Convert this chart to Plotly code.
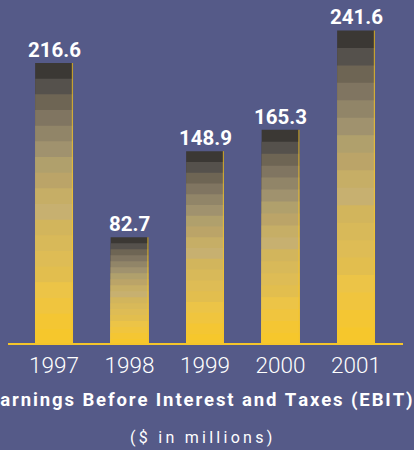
import plotly.graph_objects as go

years = ["1997", "1998", "1999", "2000", "2001"]
values = [216.6, 82.7, 148.9, 165.3, 241.6]
value_labels = ["216.6", "82.7", "148.9", "165.3", "241.6"]

title_text = "Earnings Before Interest and Taxes (EBIT)"
subtitle_text = "($ in millions)"

# band colours, bottom to top
band_colors = [
    "#F6C72C", "#F4C633", "#F0C53E", "#ECC447", "#E2BE4E", "#DEBC55",
    "#D8B959", "#D2B55C", "#C7B070", "#C6AE66", "#BBA468", "#B0A06C",
    "#A0926E", "#918568", "#807561", "#6E6554", "#55514C", "#3B3834",
]
N = len(band_colors)

BG = "#555A88"
YELLOW = "#F5C52A"
FONT = "Roboto, sans-serif"

xs = list(range(len(years)))
fig = go.Figure()
# draw from the top band down; each band spans from 0 up to its top edge,
# so later (lower) bands cover the lower part without seams
for i in range(N - 1, -1, -1):
    fig.add_trace(go.Bar(
        x=xs,
        y=[v * (i + 1) / N for v in values],
        marker=dict(color=band_colors[i], line=dict(width=0)),
        width=0.5,
        hoverinfo="skip",
        showlegend=False,
    ))

# thin edge on the right side of each bar
fig.add_trace(go.Bar(
    x=xs,
    y=values,
    width=0.016,
    offset=0.236,
    marker=dict(color="rgba(245,197,42,0.7)", line=dict(width=0)),
    hoverinfo="skip",
    showlegend=False,
))

fig.update_layout(barmode="overlay")

for i, (v, lab) in enumerate(zip(values, value_labels)):
    fig.add_annotation(
        x=i, y=v, xref="x", yref="y", text=lab, showarrow=False,
        yanchor="bottom", yshift=-1,
        font=dict(family=FONT, size=20.5, color="white", weight="bold"),
    )

fig.add_annotation(
    x=200 / 414, y=-(400 - 345) / 345, xref="paper", yref="paper",
    text="\u200a".join(title_text), showarrow=False, yanchor="middle",
    xanchor="center",
    font=dict(family=FONT, size=18.5, color="white", weight="bold"),
)
fig.add_annotation(
    x=201 / 414, y=-(437 - 345) / 345, xref="paper", yref="paper",
    text="\u2009".join(subtitle_text), showarrow=False, yanchor="middle",
    xanchor="center",
    font=dict(family=FONT, size=16, color="white"),
)

fig.add_shape(
    type="line", xref="paper", yref="y", x0=8 / 414, x1=403 / 414, y0=0, y1=0,
    line=dict(color=YELLOW, width=4),
)

fig.update_layout(
    width=414, height=450,
    margin=dict(l=0, r=0, t=0, b=105),
    paper_bgcolor=BG, plot_bgcolor=BG,
    xaxis=dict(
        range=[-54 / 75.5, (414 - 54) / 75.5],
        tickvals=xs, ticktext=years,
        tickfont=dict(family=FONT, size=22.5, color="white", weight=300),
        ticklabelstandoff=4,
        showgrid=False, zeroline=False, showline=False, ticks="",
        fixedrange=True, automargin=False,
    ),
    yaxis=dict(
        range=[0, 345 / 1.302], visible=False, fixedrange=True,
    ),
)

fig.write_html(
    "out.html",
    config={"displayModeBar": False, "staticPlot": True},
    post_script="document.body.style.margin='0';document.body.style.overflow='hidden';",
)
